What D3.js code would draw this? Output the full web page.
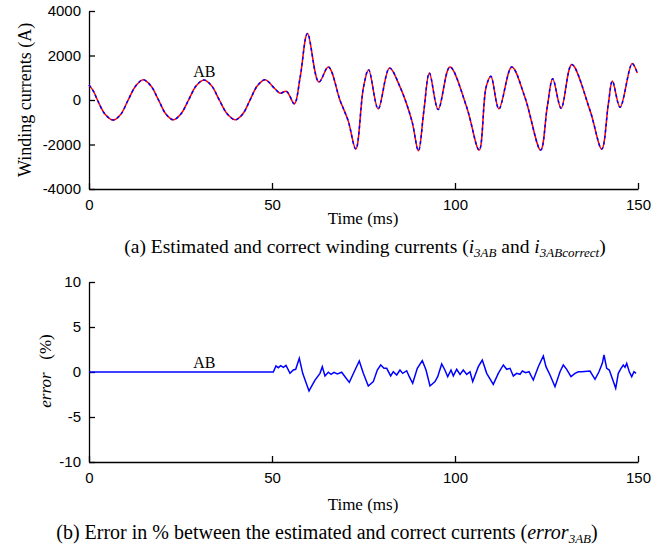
<!DOCTYPE html>
<html><head><meta charset="utf-8">
<script src="https://cdn.jsdelivr.net/npm/d3@7"></script>
<style>
body{margin:0;background:#fff;}
svg text{fill:#000;}
</style></head><body>
<script>
// ---- data ----
const xTicks = [0, 50, 100, 150];
const yTicksTop = [-4000, -2000, 0, 2000, 4000];
const yTicksBottom = [-10, -5, 0, 5, 10];
// Winding current i3AB (ms, A)
const currentTime = [0,1.2,2.3,4.4,6.6,8.7,10.7,12.8,14.8,16.9,19,21,23,25.1,27.2,29.3,31.4,33.5,35.6,37.8,40,42,44,46,48.1,
  50.8,52.2,54,56.1,57.7,59.7,62.8,65.4,68.6,70.8,72.9,75,76.4,79,82.1,85,88.2,90,91.5,93,95.4,98.6,103.2,106.6,108.5,109.8,112,115.5,119.1,123.4,125.2,126.7,129,131.9,136.9,140.1,141.9,143,145.1,148.4,149.8];
const currentValue = [680,400,0,-640,-900,-640,0,640,910,640,0,-630,-890,-630,0,640,900,640,0,-630,-890,-630,0,640,910,
  506,308,384,-172,1030,2990,805,1483,-23,-927,-2206,580,1365,-398,1437,580,-927,-2283,-475,1213,-429,1483,-325,-2252,580,1062,-398,1483,127,-2252,-325,958,-370,1590,-475,-2206,-172,851,-325,1636,1213];
// error3AB (ms, %)
const errorTime = [0,50.36,51.09,51.72,52.38,53.09,53.83,54.92,55.82,56.48,57.46,58.39,60.11,61.75,63.11,63.74,64.48,65.38,66.12,66.94,67.84,69.04,69.95,71.12,72.68,73.85,74.95,76.31,77.68,78.77,79.7,80.6,81.34,82.43,83.14,84.07,84.97,85.71,86.8,87.51,88.44,89.7,91.07,92.08,93.17,94.54,95.27,96.37,97.27,98.01,98.91,99.54,100.46,101.37,102.27,103.2,104.1,104.84,106.37,107.46,108.66,110.46,111.83,113.2,114.13,115.03,115.93,116.86,117.76,118.39,119.32,120.22,121.39,122.76,124.13,124.86,125.96,127.32,128.69,129.59,130.52,131.69,132.79,133.69,134.62,136.89,137.51,138.25,139.34,140.25,140.71,141.45,142.16,142.81,143.91,144.62,145.36,145.99,146.45,146.91,147.62,148.28,148.91,149.45];
const errorValue = [0,0,0.67,0.48,0.7,0.52,0.74,-0.15,0.22,0.3,1.52,-0.15,-2.1,-0.9,-0.15,0.59,-0.44,-0.03,-0.26,-0.03,-0.22,-0.03,-0.52,-1.15,0.22,1.22,-0.15,-1.55,-1.07,0.22,0.78,0.41,0.41,-0.44,0.03,-0.33,0.22,-0.15,0.14,-0.52,-1.26,0.41,1.26,0.22,-1.55,-1.07,-0.52,0.89,0.2,-0.52,0.22,-0.44,0.3,-0.26,0.22,-0.26,0.03,-1.07,0.59,1.33,-0.15,-1.37,-0.15,0.78,0.3,0.41,-0.44,-0.15,-0.26,0.11,-0.08,0.03,-0.89,0.59,1.78,0.59,-0.33,-1.63,0.03,0.78,0.3,-0.52,-0.15,0.03,0.03,0.11,-0.33,-0.81,0.03,0.96,1.89,0.41,0.22,-0.52,-1.81,-0.15,0.41,0.78,0.52,0.96,0.03,-0.52,0.03,-0.15];

const W = 651, H = 545;
const SERIF = "'Liberation Serif','Times New Roman',serif";
const SANS = "'Liberation Sans',Arial,sans-serif";
const svg = d3.select("body").append("svg").attr("width", W).attr("height", H);

function panel(top, bottom, yDomain, yTicks) {
  const x = d3.scaleLinear().domain([0,150]).range([89,638]);
  const y = d3.scaleLinear().domain(yDomain).range([bottom, top]);
  const fmt = v => (v < 0 ? "-" : "") + Math.abs(v);
  const gx = svg.append("g").attr("transform",`translate(0,${bottom})`)
    .call(d3.axisBottom(x).tickValues(xTicks).tickFormat(fmt).tickSizeInner(-6).tickSizeOuter(0).tickPadding(10));
  const gy = svg.append("g").attr("transform",`translate(89,0)`)
    .call(d3.axisLeft(y).tickValues(yTicks).tickFormat(fmt).tickSizeInner(-6).tickSizeOuter(0).tickPadding(8));
  [gx,gy].forEach(g=>{
    g.attr("font-family",SANS).attr("font-size",15);
    g.selectAll(".tick text").attr("fill","#222");
    g.select(".domain").attr("stroke","#000").attr("stroke-width",1.3);
    g.selectAll(".tick line").attr("stroke","#000").attr("stroke-width",1.3);});
  return {x,y};
}
function stext(x,y,size){
  return svg.append("text").attr("font-family",SERIF).attr("x",x).attr("y",y).attr("text-anchor","middle").attr("font-size",size);
}

// top panel
const p1 = panel(11, 189, [-4000,4000], yTicksTop);
const topData = currentTime.map((t,i)=>[t,currentValue[i]]);
const line1 = d3.line().x(d=>p1.x(d[0])).y(d=>p1.y(d[1])).curve(d3.curveCatmullRom.alpha(0.5));
svg.append("path").datum(topData).attr("d",line1).attr("fill","none").attr("stroke","#ff0000").attr("stroke-width",1.5);
svg.append("path").datum(topData).attr("d",line1).attr("fill","none").attr("stroke","#0000ff").attr("stroke-width",1.5).attr("stroke-dasharray","3,3");
stext(p1.x(31.5),77,16).text("AB");
svg.append("text").attr("font-family",SERIF).attr("transform","translate(31,100) rotate(-90)").attr("text-anchor","middle").attr("font-size",18).text("Winding currents (A)");
stext(363,224,17).text("Time (ms)");
const capA = stext(365,253,19.5);
capA.append("tspan").text("(a) Estimated and correct winding currents (");
capA.append("tspan").attr("font-style","italic").text("i");
capA.append("tspan").attr("font-style","italic").attr("font-size",13).attr("dy",4).text("3AB");
capA.append("tspan").attr("dy",-4).text(" and ");
capA.append("tspan").attr("font-style","italic").text("i");
capA.append("tspan").attr("font-style","italic").attr("font-size",13).attr("dy",4).text("3ABcorrect");
capA.append("tspan").attr("dy",-4).text(")");

// bottom panel
const p2 = panel(282, 462, [-10,10], yTicksBottom);
const botData = errorTime.map((t,i)=>[t,errorValue[i]]);
const line2 = d3.line().x(d=>p2.x(d[0])).y(d=>p2.y(d[1]));
svg.append("path").datum(botData).attr("d",line2).attr("fill","none").attr("stroke","#0000ff").attr("stroke-width",1.5);
stext(p2.x(31.5),368,16).text("AB");
const yl = svg.append("text").attr("font-family",SERIF).attr("transform","translate(51,371) rotate(-90)").attr("text-anchor","middle").attr("font-size",17).attr("xml:space","preserve");
yl.append("tspan").attr("font-style","italic").text("error");
yl.append("tspan").text("\u2002 (%)");
stext(363,510,17).text("Time (ms)");
const capB = stext(327,539,20);
capB.append("tspan").text("(b) Error in % between the estimated and correct currents (");
capB.append("tspan").attr("font-style","italic").text("error");
capB.append("tspan").attr("font-style","italic").attr("font-size",13).attr("dy",4).text("3AB");
capB.append("tspan").attr("dy",-4).text(")");
</script></body></html>
